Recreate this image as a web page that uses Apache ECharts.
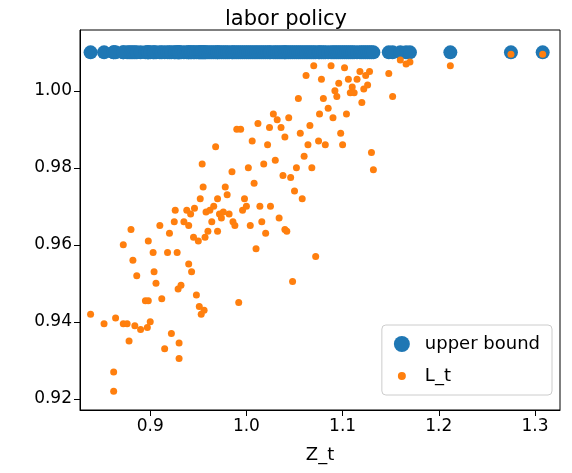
<!DOCTYPE html><html><head><meta charset="utf-8"><script src="https://cdn.jsdelivr.net/npm/echarts@6/dist/echarts.min.js"></script></head><body style="margin:0"><div id="c" style="width:572px;height:473px"></div><script>
const Z=[0.838,0.852,0.862,0.862,0.864,0.872,0.876,0.878,0.872,0.880,0.882,0.884,0.886,0.890,0.895,0.897,0.898,0.898,0.900,0.903,0.904,0.906,0.910,0.912,0.915,0.918,0.920,0.922,0.925,0.926,0.928,0.929,0.930,0.930,0.932,0.935,0.938,0.940,0.940,0.942,0.943,0.945,0.946,0.948,0.950,0.951,0.952,0.953,0.954,0.955,0.956,0.957,0.958,0.960,0.962,0.964,0.966,0.968,0.970,0.970,0.972,0.974,0.976,0.978,0.980,0.982,0.985,0.986,0.988,0.990,0.992,0.994,0.996,0.998,1.000,1.002,1.004,1.006,1.008,1.010,1.012,1.014,1.016,1.018,1.020,1.022,1.024,1.025,1.028,1.030,1.032,1.034,1.036,1.038,1.040,1.040,1.042,1.044,1.046,1.048,1.050,1.052,1.054,1.056,1.058,1.060,1.062,1.064,1.066,1.068,1.070,1.072,1.075,1.076,1.078,1.080,1.082,1.085,1.088,1.090,1.092,1.094,1.096,1.098,1.100,1.102,1.104,1.106,1.108,1.110,1.112,1.115,1.118,1.120,1.122,1.124,1.126,1.128,1.130,1.132,1.148,1.152,1.160,1.166,1.170,1.212,1.275,1.308];
const L=[0.942,0.9395,0.927,0.922,0.941,0.9395,0.9395,0.935,0.960,0.964,0.956,0.939,0.952,0.938,0.9455,0.9385,0.9455,0.961,0.940,0.958,0.953,0.950,0.965,0.946,0.933,0.958,0.963,0.937,0.966,0.969,0.958,0.9485,0.9345,0.9305,0.9495,0.966,0.969,0.965,0.955,0.968,0.953,0.962,0.9695,0.947,0.961,0.944,0.972,0.942,0.981,0.975,0.943,0.962,0.9685,0.9635,0.969,0.966,0.970,0.9855,0.9635,0.972,0.968,0.967,0.9685,0.975,0.973,0.968,0.979,0.966,0.965,0.990,0.945,0.990,0.969,0.972,0.970,0.980,0.965,0.987,0.976,0.959,0.9915,0.970,0.966,0.981,0.963,0.986,0.9905,0.970,0.994,0.982,0.9925,0.967,0.9905,0.978,0.964,0.988,0.9635,0.993,0.9775,0.9505,0.974,0.980,0.998,0.989,0.972,0.983,1.004,0.986,0.991,0.980,1.0065,0.957,0.987,0.994,1.003,0.998,0.986,0.9955,1.0065,0.993,1.000,0.9985,1.002,0.989,0.986,1.006,0.994,1.003,0.9995,1.001,0.9995,1.003,1.005,0.997,1.0005,1.004,1.0015,1.005,0.984,0.9795,1.0045,0.9985,1.008,1.007,1.0075,1.0065,1.0095,1.0095];
const UB=1.01;
const xTicks=[0.9,1.0,1.1,1.2,1.3];
const yTicks=[0.92,0.94,0.96,0.98,1.0];
const ch=echarts.init(document.getElementById('c'));
const f='DejaVu Sans';
ch.setOption({animation:false,textStyle:{fontFamily:f},
title:{text:'labor policy',left:'center',top:4,textStyle:{fontFamily:f,fontSize:21,fontWeight:'normal',color:'#000'}},
grid:{left:80,right:12,top:30,bottom:63,show:true,borderColor:'#000',borderWidth:1},
legend:{orient:'vertical',right:20,bottom:78,itemWidth:16,itemHeight:16,itemGap:14,padding:[10,12],borderColor:'#ccc',borderWidth:1,borderRadius:4,textStyle:{fontSize:18,color:'#000',fontFamily:f,padding:[0,0,0,10]},
 data:[{name:'upper bound',icon:'circle'},{name:'L_t',icon:'path://M0,0L0.01,0M100,100L100.01,100M50,25A25,25 0 1,1 49.99,25Z'}]},
xAxis:{type:'value',min:0.827,max:1.326,name:'Z_t',nameLocation:'middle',nameGap:36,nameTextStyle:{fontSize:18,color:'#000'},splitLine:{show:false},axisLine:{lineStyle:{color:'#000'}},
 axisLabel:{fontSize:17,color:'#000',customValues:xTicks,formatter:v=>v.toFixed(1)},axisTick:{customValues:xTicks,length:6,lineStyle:{color:'#000'}}},
yAxis:{type:'value',min:0.9171,max:1.0158,splitLine:{show:false},axisLine:{show:true,lineStyle:{color:'#000'}},
 axisLabel:{fontSize:17,color:'#000',customValues:yTicks,formatter:v=>v.toFixed(2)},axisTick:{show:true,customValues:yTicks,length:6,lineStyle:{color:'#000'}}},
series:[{name:'upper bound',type:'scatter',symbolSize:14,itemStyle:{color:'#1f77b4',opacity:1},data:Z.map(z=>[z,UB])},
{name:'L_t',type:'scatter',symbolSize:7,itemStyle:{color:'#ff7f0e',opacity:1},data:Z.map((z,i)=>[z,L[i]])}]});
</script></body></html>
